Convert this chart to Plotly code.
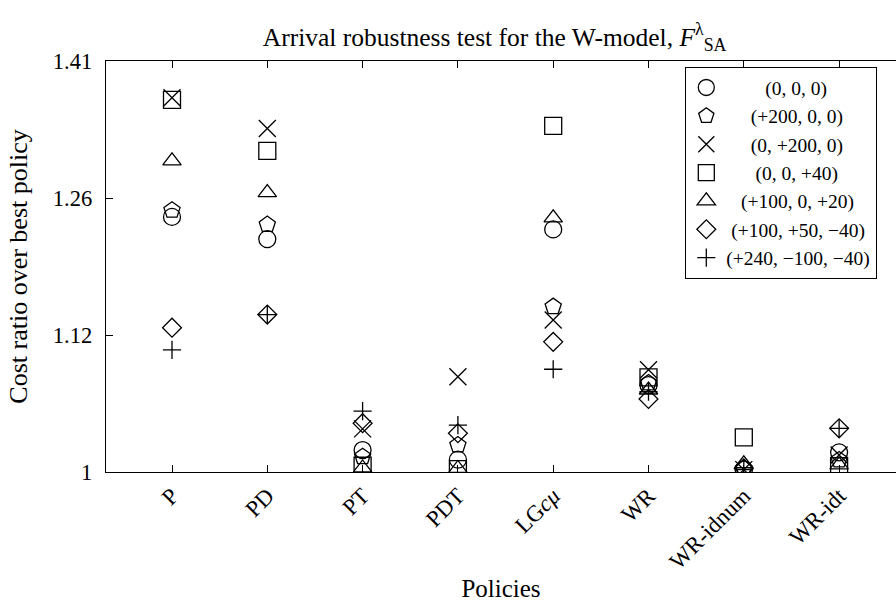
import math
import plotly.graph_objects as go

# ---------------- data ----------------
policies = ["P", "PD", "PT", "PDT", "LG<i>cμ</i>", "WR", "WR-idnum", "WR-idt"]

series_names = ["(0, 0, 0)", "(+200, 0, 0)", "(0, +200, 0)", "(0, 0, +40)",
                "(+100, 0, +20)", "(+100, +50, −40)", "(+240, −100, −40)"]

vals_000 = [1.240, 1.217, 1.0187, 1.0105, 1.227, 1.076, 1.002, 1.0167]
vals_200_0_0 = [1.247, 1.232, 1.013, 1.023, 1.1496, 1.078, 1.003, 1.0102]
vals_0_200_0 = [1.371, 1.336, 1.037, 1.0836, 1.1367, 1.090, 1.002, 1.0144]
vals_0_0_40 = [1.3685, 1.311, 1.0053, 1.0025, 1.339, 1.0831, 1.0297, 1.005]
vals_100_0_20 = [1.300, 1.2656, 1.0034, 1.003, 1.239, 1.0716, 1.007, 1.006]
vals_100_50_m40 = [1.1294, 1.142, 1.042, 1.0332, 1.116, 1.0635, 1.003, 1.0375]
vals_240_m100_m40 = [1.1084, 1.142, 1.0527, 1.0404, 1.0905, 1.070, 1.002, 1.0375]

y_tickvals = [1.0, 2 ** (1 / 6), 2 ** (1 / 3), 2 ** 0.5]
y_ticktext = ["1", "1.12", "1.26", "1.41"]

# ---------------- styling ----------------
FONT = "Liberation Serif"
NB = "\u00a0"
# leading padding so that legend labels look centred like the reference
legend_pad = [8, 5, 5, 6, 3, 1, 0]

series = [
    (vals_000, "circle-open", 17),
    (vals_200_0_0, "pentagon-open", 17),
    (vals_0_200_0, "x-thin-open", 17),
    (vals_0_0_40, "square-open", 17),
    (vals_100_0_20, "triangle-up-open", 16),
    (vals_100_50_m40, "diamond-open", 14.5),
    (vals_240_m100_m40, "cross-thin-open", 13),
]

fig = go.Figure()
for (vals, sym, size), name, pad in zip(series, series_names, legend_pad):
    fig.add_trace(go.Scatter(
        x=policies, y=vals, mode="markers", name=NB * pad + name,
        marker=dict(symbol=sym, size=size, color="black",
                    line=dict(color="black", width=1.3)),
    ))

W, H = 896, 609
L, T, B = 106, 61, 137
ymax_log = math.log10(2 ** 0.5)

fig.update_layout(
    width=W, height=H,
    margin=dict(l=L, r=0, t=T, b=B, pad=0, autoexpand=False),
    plot_bgcolor="white", paper_bgcolor="white",
    hovermode=False,
    font=dict(family=FONT, size=22, color="black"),
    title=dict(text="Arrival robustness test for the W-model, <i>F</i><sup>λ</sup><sub>SA</sub>",
               x=0.552, xref="container", xanchor="center",
               y=1 - 37 / H, yref="container", yanchor="middle",
               font=dict(family=FONT, size=25.5, color="black")),
    showlegend=True,
    legend=dict(x=(877 - L) / (W - L), xanchor="right",
                y=(472 - 67) / (472 - T), yanchor="top",
                bgcolor="white", bordercolor="black", borderwidth=1.3,
                font=dict(family=FONT, size=19.5, color="black"),
                tracegroupgap=0, itemsizing="trace"),
    xaxis=dict(
        type="category", categoryorder="array", categoryarray=policies,
        range=[-0.6925, 7.597], automargin=False,
        showline=True, linecolor="black", linewidth=1.3, mirror="ticks",
        ticks="inside", ticklen=7, tickcolor="black", tickwidth=1,
        tickangle=-45, tickfont=dict(family=FONT, size=23),
        showgrid=False, zeroline=False,
        title=dict(text="Policies", font=dict(family=FONT, size=25), standoff=6),
    ),
    yaxis=dict(
        type="log", range=[0, ymax_log], automargin=False,
        tickmode="array", tickvals=y_tickvals, ticktext=y_ticktext,
        showline=True, linecolor="black", linewidth=1.3, mirror=False,
        ticks="inside", ticklen=7, tickcolor="black", tickwidth=1,
        tickfont=dict(family=FONT, size=22.5), ticklabelstandoff=8,
        showgrid=False, zeroline=False,
        title=dict(text="Cost ratio over best policy", font=dict(family=FONT, size=26), standoff=17),
    ),
    yaxis2=dict(
        type="log", range=[0, ymax_log], overlaying="y", side="right", anchor="x",
        automargin=False,
        tickmode="array", tickvals=y_tickvals, showticklabels=False,
        ticks="inside", ticklen=5, tickcolor="black", tickwidth=1,
        showline=False, showgrid=False, zeroline=False,
    ),
)

fig.write_html("out.html",
               config={"displayModeBar": False, "staticPlot": True},
               post_script="document.body.style.margin='0';document.body.style.overflow='hidden';")
